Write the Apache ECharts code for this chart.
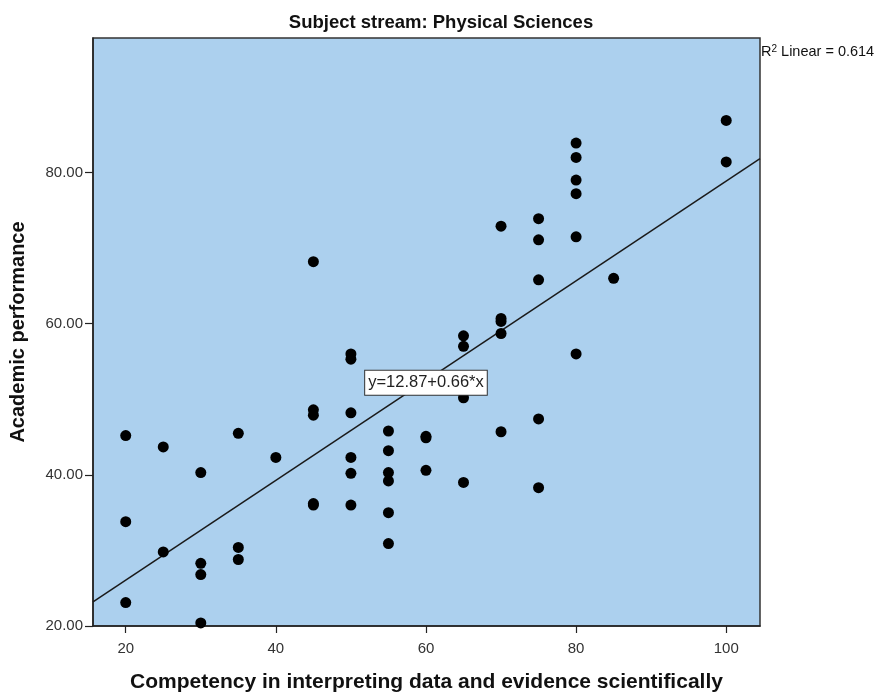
<!DOCTYPE html>
<html>
<head>
<meta charset="utf-8">
<script src="https://cdn.jsdelivr.net/npm/echarts@6/dist/echarts.min.js"></script>
<style>html,body{margin:0;padding:0;background:#fff;}#c{width:883px;height:693px;}</style>
</head>
<body>
<div id="c"></div>
<script>
// Competency scores (x) and academic performance (y)
const xValues = [20,20,20, 25,25, 30,30,30,30, 35,35,35, 40,
  45,45,45,45,45, 50,50,50,50,50,50, 55,55,55,55,55,55,
  60,60,60, 65,65,65,65, 70,70,70,70,70, 75,75,75,75,75,
  80,80,80,80,80,80, 85, 100,100];
const yValues = [45.2,33.8,23.1, 43.7,29.8, 40.3,28.3,26.8,20.4, 45.5,30.4,28.8, 42.3,
  68.2,48.6,47.9,36.2,36.0, 56.0,55.3,48.2,42.3,40.2,36.0, 45.8,43.2,40.3,39.2,35.0,30.9,
  45.1,44.9,40.6, 58.4,57.0,50.2,39.0, 72.9,60.7,60.3,58.7,45.7, 73.9,71.1,65.8,47.4,38.3,
  83.9,82.0,79.0,77.2,71.5,56.0, 66.0, 86.9,81.4];
const xTicks = [20,40,60,80,100];
const yTicks = [20,40,60,80];
const intercept = 12.87;
const slope = 0.66;
const rSquared = 0.614;
const xMin = 15.64, xMax = 104.5, yMin = 20, yMax = 97.8;

const points = xValues.map((x,i)=>[x,yValues[i]]);
const fitLine = [[xMin, intercept + slope*xMin],[xMax, intercept + slope*xMax]];

const FONT = 'Liberation Sans, Arial, sans-serif';
const chart = echarts.init(document.getElementById('c'));
chart.setOption({
  animation:false,
  backgroundColor:'#ffffff',
  title:{
    text:'Subject stream: Physical Sciences',
    left:436, top:8, textAlign:'center',
    textStyle:{fontFamily:FONT,fontSize:18.5,fontWeight:'bold',color:'#111'}
  },
  grid:{left:93, right:123, top:38, bottom:67, outerBoundsMode:'none', containLabel:false,
    show:true, backgroundColor:'#acd0ee', borderColor:'#333', borderWidth:1.5},
  xAxis:{
    type:'value', min:xMin, max:xMax,
    name:'Competency in interpreting data and evidence scientifically',
    nameLocation:'middle', nameGap:46,
    nameTextStyle:{fontFamily:FONT,fontSize:21,fontWeight:'bold',color:'#111'},
    splitLine:{show:false},
    axisLine:{show:true,onZero:false,lineStyle:{color:'#222',width:1.5}},
    axisTick:{show:true,customValues:xTicks,length:7,lineStyle:{color:'#222',width:1.2}},
    axisLabel:{customValues:xTicks,fontFamily:FONT,fontSize:15,color:'#333',margin:15}
  },
  yAxis:{
    type:'value', min:yMin, max:yMax,
    name:'Academic performance',
    nameLocation:'middle', nameGap:65, nameRotate:90,
    nameTextStyle:{fontFamily:FONT,fontSize:20,fontWeight:'bold',color:'#111'},
    splitLine:{show:false},
    axisLine:{show:true,onZero:false,lineStyle:{color:'#222',width:1.5}},
    axisTick:{show:true,customValues:yTicks,length:8,lineStyle:{color:'#222',width:1.2}},
    axisLabel:{customValues:yTicks,formatter:v=>v.toFixed(2),fontFamily:FONT,fontSize:15,color:'#333',margin:10}
  },
  series:[
    {
      type:'line', data:fitLine, symbol:'none', silent:true,
      lineStyle:{color:'#1a1a1a',width:1.5},
      z:2,
      markPoint:{
        symbol:'rect', symbolSize:0,
        data:[{coord:[60,52.2]}],
        label:{show:true, formatter:'y=' + intercept.toFixed(2) + '+' + slope.toFixed(2) + '*x',
          fontFamily:FONT, fontSize:16.5, color:'#222',
          backgroundColor:'#fff', borderColor:'#333', borderWidth:1, padding:[4,3,3,3], position:'inside'}
      }
    },
    {
      type:'scatter', data:points, symbol:'circle', symbolSize:11,
      itemStyle:{color:'#000', opacity:1}, z:3
    }
  ],
  graphic:[{
    type:'text', left:761, top:44,
    style:{
      text:'R{s|2} Linear = ' + rSquared.toFixed(3),
      rich:{s:{fontSize:10, verticalAlign:'top', padding:[0,0,6,0], fontFamily:FONT, fill:'#111'}},
      fontFamily:FONT, fontSize:14.5, fill:'#111'
    }
  }]
});
</script>
</body>
</html>
